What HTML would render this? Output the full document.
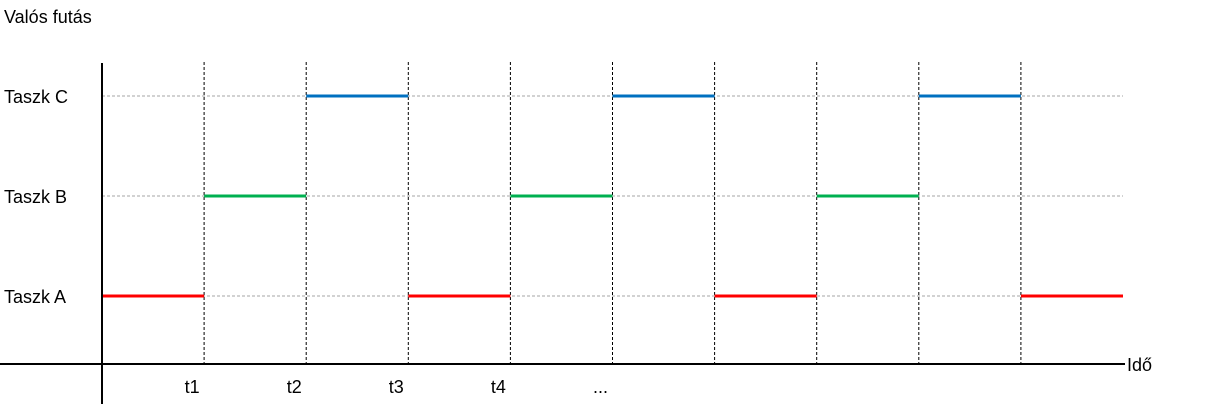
<!DOCTYPE html>
<html><head><meta charset="utf-8">
<style>
html,body{margin:0;padding:0;background:#fff;}
body{width:1225px;height:404px;overflow:hidden;}
svg text{font-family:"Liberation Sans",sans-serif;font-size:18px;fill:#000;}
</style></head>
<body>
<svg id="chart" width="1225" height="404" xmlns="http://www.w3.org/2000/svg">
<text x="4" y="23">Valós futás</text>
<g id="grid"></g>
<g id="marks"></g>
<line x1="102" y1="63" x2="102" y2="404" stroke="#000" stroke-width="2"/>
<line x1="0" y1="364" x2="1125" y2="364" stroke="#000" stroke-width="2"/>
<text x="1127" y="371">Idő</text>
</svg>
<script>
const tasks = ["Taszk A", "Taszk B", "Taszk C"];
const taskColors = ["#ff0000", "#00b050", "#0070c0"];
// task index running in each time slot
const slotTask = [0, 1, 2, 0, 1, 2, 0, 1, 2, 0];
const tickLabels = ["", "t1", "t2", "t3", "t4", "..."];

const ns = "http://www.w3.org/2000/svg";
const x0 = 102, slotW = 102.1;
const xScale = i => x0 + i * slotW;
const yScale = t => 296 - t * 100;
const grid = document.getElementById("grid");
const marks = document.getElementById("marks");
function mk(tag, attrs, parent){
  const e = document.createElementNS(ns, tag);
  for (const k in attrs) e.setAttribute(k, attrs[k]);
  parent.appendChild(e);
  return e;
}
const xEnd = xScale(slotTask.length);
tasks.forEach((name, t) => {
  const l = mk("line", {x1: x0, x2: xEnd, y1: yScale(t), y2: yScale(t), stroke: "#a6a6a6", "stroke-width": 1, "stroke-dasharray": "3,2"}, grid);
  
  
  const tx = mk("text", {x: 4, y: yScale(t) + 7}, grid);
  tx.textContent = name;
  
  
});
for (let i = 1; i < slotTask.length; i++) {
  const l = mk("line", {x1: xScale(i), x2: xScale(i), y1: 62, y2: 364, stroke: "#000", "stroke-width": 1, "stroke-dasharray": "3,2"}, grid);
  
  
}
tickLabels.forEach((lab, i) => {
  if (!lab) return;
  const tx = mk("text", {x: xScale(i) - 12, y: 393, "text-anchor": "middle"}, grid);
  tx.textContent = lab;
  
  
});
slotTask.forEach((t, i) => {
  const l = mk("line", {x1: xScale(i), x2: xScale(i + 1), y1: yScale(t), y2: yScale(t), stroke: taskColors[t], "stroke-width": 3}, marks);
  
  
});
</script>
</body></html>
